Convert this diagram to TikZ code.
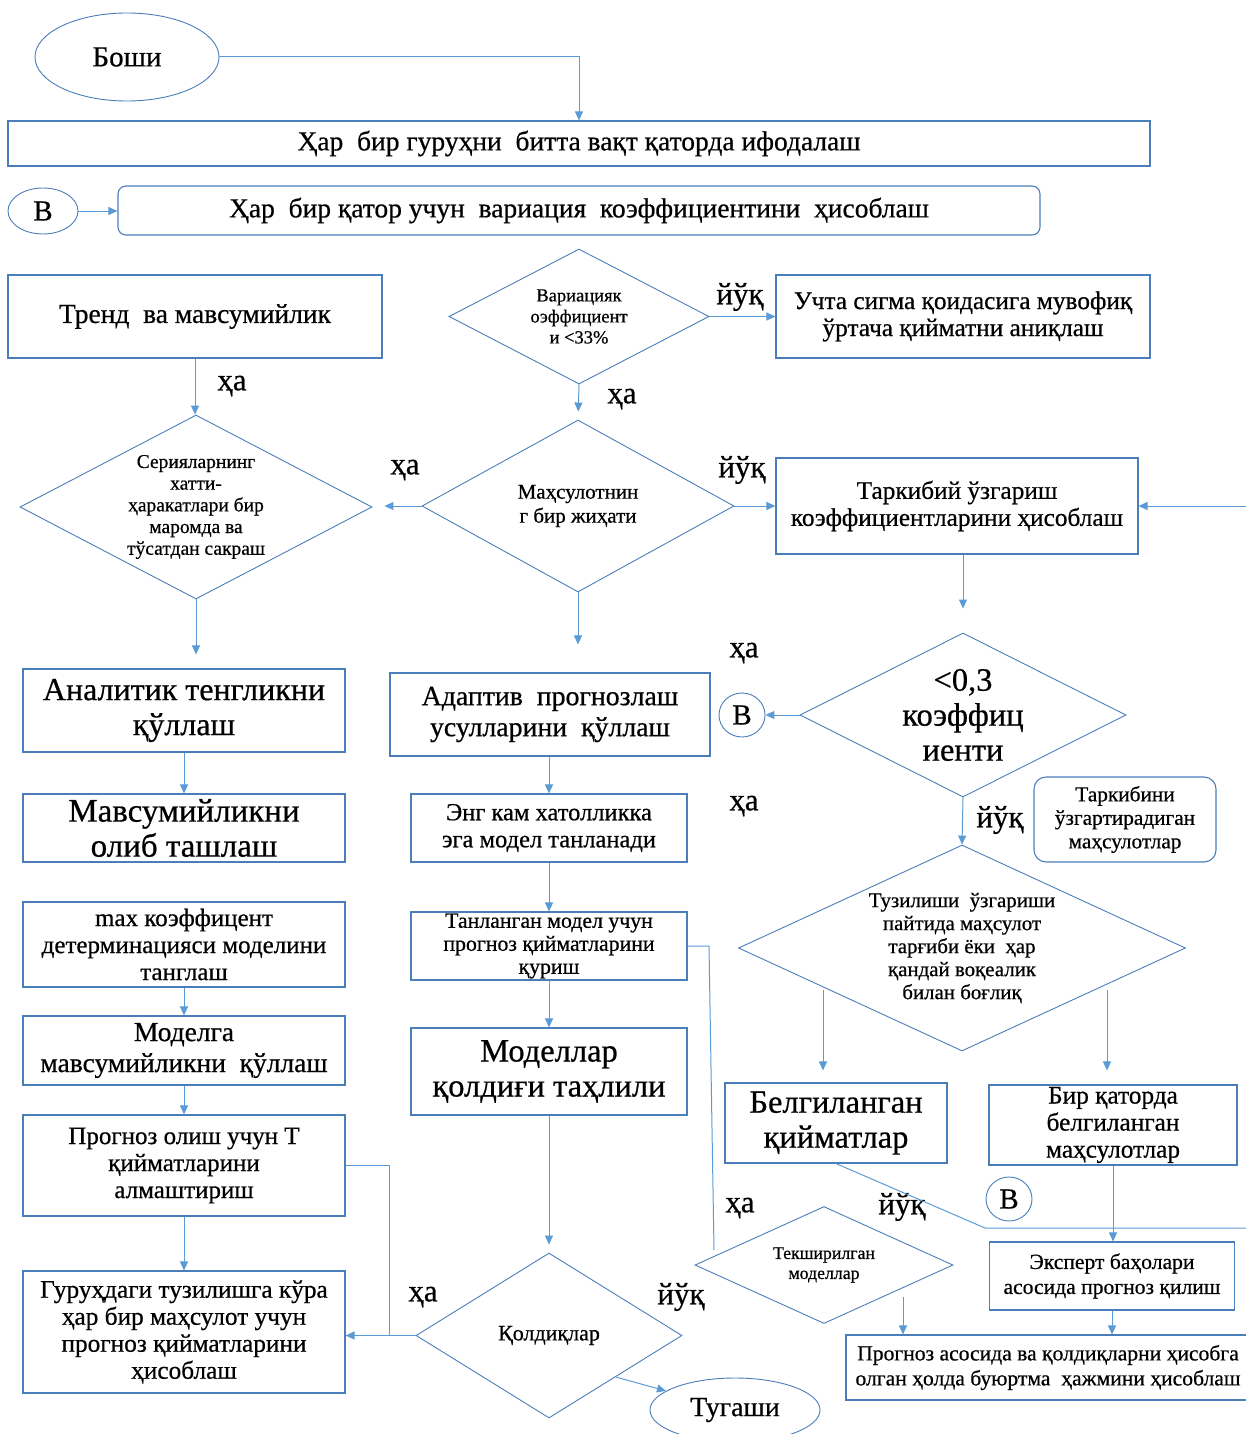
\documentclass[tikz,border=0pt]{standalone}
\usepackage{fontspec}
\setmainfont{Liberation Serif}[FakeBold=0.6]
\usetikzlibrary{arrows.meta}
\usetikzlibrary{shapes.geometric}

\definecolor{boxblue}{HTML}{4A7EBB}
\definecolor{edgeblue}{HTML}{5B9BD5}

\begin{document}
\begin{tikzpicture}[x=1pt,y=-1pt]
   \tikzset{BoxStyle/.style={draw=boxblue, line width=1.1pt, align=center, inner sep=0pt}}
   \tikzset{DiamondStyle/.style={BoxStyle, shape=diamond, line width=0.9pt}}
   \tikzset{OvalStyle/.style={BoxStyle, shape=ellipse, line width=0.9pt}}
   \tikzset{EdgeStyle/.style={draw=edgeblue, line width=1pt, -{Triangle[length=9pt,width=8pt]}}}
   \tikzset{LineStyle/.style={draw=edgeblue, line width=1pt}}
   \tikzset{LabelStyle/.style={inner sep=0pt, font=\fontsize{31}{34}\selectfont}}
   \tikzset{fs/.style 2 args={font=\fontsize{#1}{#2}\selectfont}}
   \tikzset{wh/.style 2 args={minimum width=#1pt, minimum height=#2pt}}
   \useasboundingbox (0,0) rectangle (1246,1434);

   \node[OvalStyle, wh={184}{88}, fs={29}{32}] (Start) at (127,57) {Боши};
   \node[BoxStyle, wh={1142}{45}, fs={27.5}{31}] (Group) at (579,143.5) {Ҳар\ \ бир гуруҳни\ \ битта вақт қаторда ифодалаш};
   \node[OvalStyle, wh={70}{46}, fs={29}{32}] (B1) at (43,211) {В};
   \node[BoxStyle, rounded corners=8pt, wh={922}{49}, fs={27.5}{31}] (Calc) at (579,210.5) {Ҳар\ \ бир қатор учун\ \ вариация\ \ коэффициентини\ \ ҳисоблаш};

   \node[BoxStyle, wh={374}{83}, fs={27.5}{31}] (Trend) at (195,316.5) {Тренд\ \ ва мавсумийлик};
   \node[DiamondStyle, wh={260}{135}, aspect=1.93, fs={18.5}{21}] (Var) at (579,316.5) {Вариацияк\\оэффициент\\и <33\%};
   \node[BoxStyle, wh={374}{83}, fs={25.3}{27}] (Sigma) at (963,316.5) {Учта сигма қоидасига мувофиқ\\ўртача қийматни аниқлаш};

   \node[DiamondStyle, wh={352}{184}, aspect=1.91, fs={19.5}{21.7}] (Ser) at (196,507) {Серияларнинг\\хатти-\\ҳаракатлари бир\\маромда ва\\тўсатдан сакраш};
   \node[DiamondStyle, wh={312}{172}, aspect=1.81, fs={21}{24}] (Prod) at (578,506) {Маҳсулотнин\\г бир жиҳати};
   \node[BoxStyle, wh={362}{96}, fs={25.3}{27}] (Struct) at (957,506) {Таркибий ўзгариш\\коэффициентларини ҳисоблаш};

   \node[BoxStyle, wh={322}{83}, fs={32}{35}] (Anal) at (184,710.5) {Аналитик тенгликни\\қўллаш};
   \node[BoxStyle, wh={320}{83}, fs={27.8}{31}] (Adapt) at (550,714.5) {Адаптив\ \ прогнозлаш\\усулларини\ \ қўллаш};
   \node[OvalStyle, wh={46}{44}, fs={29}{32}] (B2) at (742,715) {В};
   \node[DiamondStyle, wh={326}{164}, aspect=1.99, inner sep=-3pt, fs={32.5}{35}] (Koef) at (963,715) {<0,3\\коэффиц\\иенти};

   \node[BoxStyle, wh={322}{68}, fs={33}{35}] (Seas) at (184,828) {Мавсумийликни\\олиб ташлаш};
   \node[BoxStyle, wh={276}{68}, fs={24.5}{27}] (Min) at (549,828) {Энг кам хатолликка\\эга модел танланади};
   \node[BoxStyle, rounded corners=12pt, wh={182}{85}, fs={21.3}{23.5}] (Tarkib) at (1125,819.5) {Таркибини\\ўзгартирадиган\\маҳсулотлар};
   \node[DiamondStyle, wh={447}{206}, aspect=2.17, fs={20.9}{23}] (Tuz) at (962,948) {Тузилиши\ \ ўзгариши\\пайтида маҳсулот\\тарғиби ёки\ \ ҳар\\қандай воқеалик\\билан боғлиқ};

   \node[BoxStyle, wh={322}{85}, fs={25}{27}] (Max) at (184,944.5) {max коэффицент\\детерминацияси моделини\\танглаш};
   \node[BoxStyle, wh={276}{68}, fs={21.8}{23}] (Sel) at (549,946) {Танланган модел учун\\прогноз қийматларини\\қуриш};
   \node[BoxStyle, wh={322}{69}, fs={27.5}{31}] (ModSeas) at (184,1050.5) {Моделга\\мавсумийликни\ \ қўллаш};
   \node[BoxStyle, wh={276}{87}, fs={32.5}{35}] (Resid) at (549,1071.5) {Моделлар\\қолдиғи таҳлили};
   \node[BoxStyle, wh={222}{80}, fs={32.5}{35}] (Fixed) at (836,1123) {Белгиланган\\қийматлар};
   \node[BoxStyle, wh={248}{80}, fs={25.3}{27}] (Row) at (1113,1125) {Бир қаторда\\белгиланган\\маҳсулотлар};
   \node[BoxStyle, wh={322}{101}, fs={25}{27}] (Repl) at (184,1165.5) {Прогноз олиш учун Т\\қийматларини\\алмаштириш};
   \node[OvalStyle, wh={46}{44}, fs={29}{32}] (B3) at (1009,1199) {В};
   \node[DiamondStyle, wh={258}{117}, aspect=2.2, fs={17.8}{20}] (Check) at (824,1265) {Текширилган\\моделлар};
   \node[BoxStyle, wh={245}{68}, fs={21.6}{25}] (Expert) at (1112,1276) {Эксперт баҳолари\\асосида прогноз қилиш};
   \node[BoxStyle, wh={322}{122}, fs={25.3}{27}] (Calcgr) at (184,1332) {Гуруҳдаги тузилишга кўра\\ҳар бир маҳсулот учун\\прогноз қийматларини\\ҳисоблаш};
   \node[DiamondStyle, wh={266}{165}, aspect=1.61, fs={22}{24}] (Kol) at (549,1335.5) {Қолдиқлар};
   \node[BoxStyle, wh={404}{65}, fs={21.6}{25}] (Order) at (1048,1367.5) {Прогноз асосида ва қолдиқларни ҳисобга\\олган ҳолда буюртма\ \ ҳажмини ҳисоблаш};
   \node[OvalStyle, wh={170}{64}, fs={27.8}{31}] (End) at (735,1410) {Тугаши};

   \node[LabelStyle] (L1) at (740,297) {йўқ};
   \node[LabelStyle] (L2) at (622,399) {ҳа};
   \node[LabelStyle] (L3) at (232,386) {ҳа};
   \node[LabelStyle] (L4) at (405,470) {ҳа};
   \node[LabelStyle] (L5) at (742,470) {йўқ};
   \node[LabelStyle] (L6) at (744,653) {ҳа};
   \node[LabelStyle] (L7) at (744,806) {ҳа};
   \node[LabelStyle] (L8) at (1000,820) {йўқ};
   \node[LabelStyle] (L9) at (740,1208) {ҳа};
   \node[LabelStyle] (L10) at (902,1207) {йўқ};
   \node[LabelStyle] (L11) at (423,1297) {ҳа};
   \node[LabelStyle] (L12) at (681,1297) {йўқ};

   \coordinate (R1) at (1246,506);
   \coordinate (T1) at (823,990);
   \coordinate (T2) at (1107,990);
   \coordinate (S1) at (709,946);
   \coordinate (S2) at (714,1250);
   \coordinate (F1) at (985,1228);
   \coordinate (F2) at (1246,1228);
   \coordinate (C1) at (903,1297);
   \coordinate (P1) at (389,1165.5);

   \draw[EdgeStyle] (Start) -| (Group);
   \draw[EdgeStyle] (B1) -- (B1 -| Calc.west);
   \draw[EdgeStyle] (Var.east) -- (Sigma.west);
   \draw[EdgeStyle, shorten >=8pt] (Var.south) -- (Prod.north);
   \draw[EdgeStyle, shorten >=12pt] (Prod.west) -- (Prod.west -| Ser.east);
   \draw[EdgeStyle] (Prod.east) -- (Struct.west);
   \draw[EdgeStyle] (R1) -- (Struct.east);
   \draw[EdgeStyle] (Trend.south) -- (Trend.south |- Ser.north);
   \draw[EdgeStyle, shorten >=14pt] (Ser.south) -- (Ser.south |- Anal.north);
   \draw[EdgeStyle, shorten >=28pt] (Prod.south) -- (Prod.south |- Adapt.north);
   \draw[EdgeStyle, shorten >=24pt] (Koef.north |- Struct.south) -- (Koef.north);
   \draw[EdgeStyle] (Koef.west) -- (B2);
   \draw[EdgeStyle] (Koef.south) -- (Tuz.north);
   \draw[EdgeStyle] (Anal.south) -- (Seas.north);
   \draw[EdgeStyle] (Min.north |- Adapt.south) -- (Min.north);
   \draw[EdgeStyle] (Min.south) -- (Sel.north);
   \draw[EdgeStyle] (Sel.south) -- (Resid.north);
   \draw[EdgeStyle, shorten >=8pt] (Resid.south) -- (Kol.north);
   \draw[EdgeStyle] (Max.south) -- (ModSeas.north);
   \draw[EdgeStyle] (ModSeas.south) -- (Repl.north);
   \draw[EdgeStyle] (Repl.south) -- (Calcgr.north);
   \draw[LineStyle] (Repl.east) -- (P1) -- (P1 |- Kol.west);
   \draw[EdgeStyle] (Kol.west) -- (Kol.west -| Calcgr.east);
   \draw[EdgeStyle] (Kol.south east) -- (End);
   \draw[LineStyle] (Sel.east) -- (S1) -- (S2);
   \draw[EdgeStyle, shorten >=12pt] (T1) -- (T1 |- Fixed.north);
   \draw[EdgeStyle, shorten >=14pt] (T2) -- (T2 |- Row.north);
   \draw[LineStyle] (Fixed.south) -- (F1) -- (F2);
   \draw[EdgeStyle] (Row.south) -- (Row.south |- Expert.north);
   \draw[EdgeStyle] (Expert.south) -- (Expert.south |- Order.north);
   \draw[EdgeStyle] (C1) -- (C1 |- Order.north);
\end{tikzpicture}
\end{document}
